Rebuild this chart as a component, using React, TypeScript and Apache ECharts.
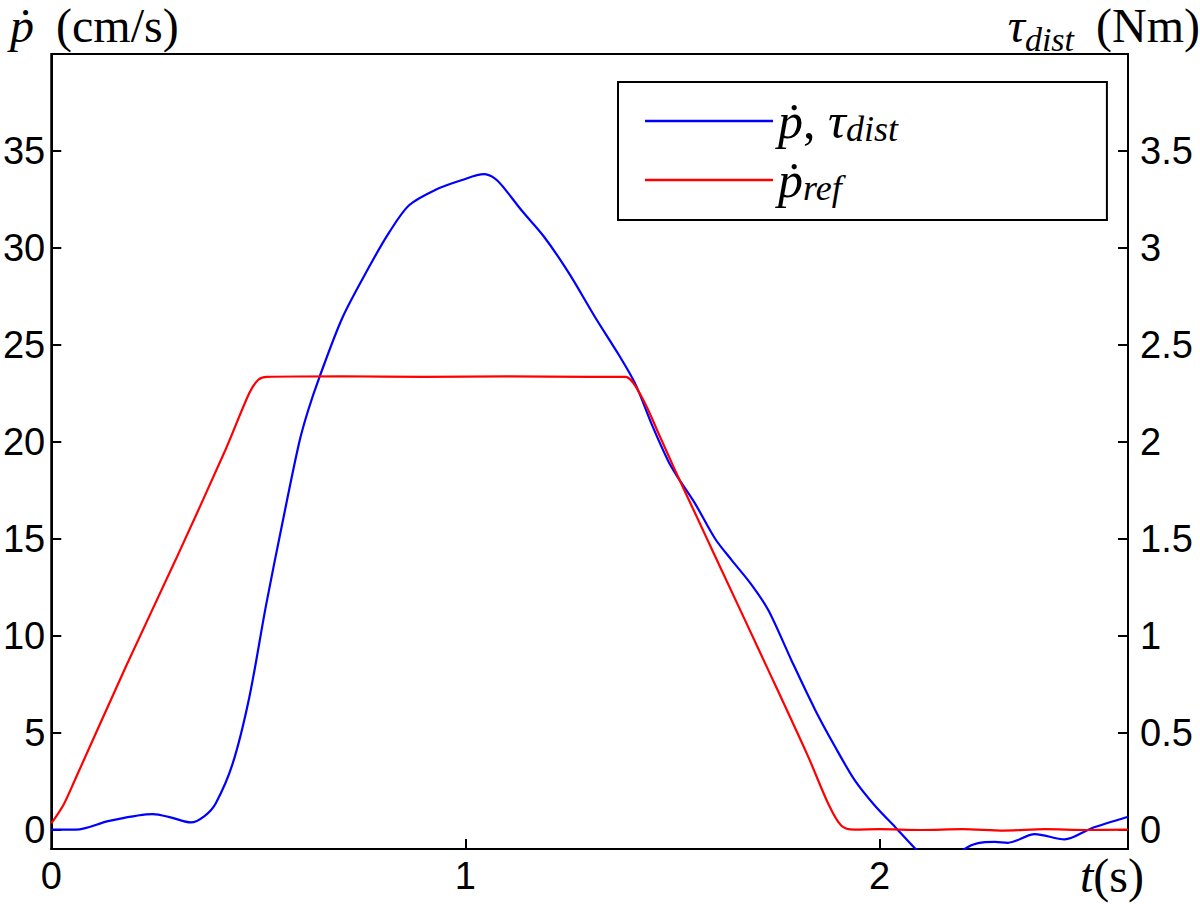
import React, { useEffect, useRef } from "react";
import * as echarts from "echarts";

// time (s), value (cm/s) pairs
const pDotMeasured: [number, number][] = [
  [0, 0], [0.06, 0], [0.14, 0.45], [0.245, 0.8], [0.29, 0.62], [0.337, 0.37],
  [0.37, 0.7], [0.397, 1.35], [0.438, 3.4], [0.478, 6.8], [0.518, 11.5],
  [0.558, 15.8], [0.598, 19.9], [0.62, 21.6], [0.647, 23.3], [0.703, 26.4],
  [0.767, 29.0], [0.816, 30.8], [0.864, 32.2], [0.928, 33.0], [0.992, 33.5],
  [1.045, 33.8], [1.07, 33.6], [1.089, 33.2], [1.137, 31.9], [1.189, 30.6],
  [1.25, 28.7], [1.314, 26.4], [1.37, 24.5], [1.41, 23.0], [1.45, 20.9],
  [1.49, 19.0], [1.515, 18.1], [1.555, 16.8], [1.603, 15.0], [1.643, 13.9],
  [1.692, 12.6], [1.732, 11.3], [1.788, 8.7], [1.844, 6.2], [1.892, 4.3],
  [1.94, 2.55], [1.99, 1.2], [2.037, 0.15], [2.086, -0.97], [2.13, -1.8],
  [2.17, -1.8], [2.206, -1.0], [2.238, -0.7], [2.278, -0.63], [2.31, -0.68],
  [2.375, -0.23], [2.447, -0.5], [2.511, 0.06], [2.6, 0.66],
];

const pDotRef: [number, number][] = [
  [0, 0.32], [0.03, 1.3], [0.06, 2.7], [0.18, 8.4], [0.3, 13.9], [0.421, 19.6],
  [0.478, 22.5], [0.5, 23.2], [0.52, 23.35], [0.7, 23.38], [0.9, 23.35],
  [1.1, 23.37], [1.3, 23.35], [1.386, 23.35], [1.426, 22.3], [1.467, 20.4],
  [1.507, 18.5], [1.555, 16.3], [1.603, 14.1], [1.732, 8.2], [1.828, 3.75],
  [1.877, 1.3], [1.908, 0.2], [1.94, 0], [2.0, 0.02], [2.1, -0.02], [2.2, 0.02],
  [2.3, -0.05], [2.4, 0.02], [2.5, -0.02], [2.6, 0.0],
];

const seriesNames = ["ṗ, τdist", "ṗref"];
const xRange = [0, 2.6];
const leftRange = [-1, 40];
const rightRange = [-0.1, 4.0];

const serif = '"Liberation Serif", "DejaVu Serif", serif';
const sans = '"Liberation Sans", Arial, Helvetica, sans-serif';

const rich: any = {
  it: { fontFamily: serif, fontStyle: "italic", fontWeight: "normal", fontSize: 48, lineHeight: 50, verticalAlign: "middle", color: "#000" },
  rm: { fontFamily: serif, fontWeight: "normal", fontSize: 48, lineHeight: 50, verticalAlign: "middle", color: "#000" },
  gap: { fontFamily: serif, fontSize: 20, lineHeight: 20, width: 22 },
  sub: { fontFamily: serif, fontStyle: "italic", fontWeight: "normal", fontSize: 34, lineHeight: 24, verticalAlign: "top", padding: [22, 0, 0, 0], color: "#000" },
};

const legendRich: any = {
  it: { fontFamily: serif, fontStyle: "italic", fontSize: 50, lineHeight: 52, verticalAlign: "middle", color: "#000" },
  rm: { fontFamily: serif, fontSize: 50, lineHeight: 52, verticalAlign: "middle", color: "#000" },
  sub: { fontFamily: serif, fontStyle: "italic", fontSize: 36, lineHeight: 26, verticalAlign: "bottom", color: "#000" },
};

export default function App() {
  const ref = useRef<HTMLDivElement>(null);
  useEffect(() => {
    if (!ref.current) return;
    const chart = echarts.init(ref.current, undefined, { renderer: "svg" });
    const axisLine = { show: true, onZero: false, lineStyle: { color: "#000", width: 2 } };
    const axisTick = { show: true, inside: true, length: 10, lineStyle: { color: "#000", width: 2 } };
    const titleStyle = { fontWeight: "normal", fontFamily: serif, color: "#000", rich };
    chart.setOption({
      animation: false,
      backgroundColor: "#fff",
      title: [
        { left: 10, top: 0, padding: 0, text: "{it|ṗ}{gap| }{rm|(cm/s)}", textStyle: titleStyle },
        { right: 0, top: 0, padding: 0, text: "{it|τ}{sub|dist}{gap| }{rm|(Nm)}", textStyle: titleStyle },
        { left: 1080, top: 850, padding: 0, text: "{it|t}{rm|(s)}", textStyle: titleStyle },
      ],
      grid: { left: 48.5, right: 72, top: 54, bottom: 55, show: true, borderColor: "#000", borderWidth: 2, backgroundColor: "transparent" },
      xAxis: {
        type: "value", min: xRange[0], max: xRange[1], interval: 1,
        axisLine, axisTick, splitLine: { show: false },
        axisLabel: {
          margin: 8, fontFamily: sans, fontSize: 38, color: "#000",
          formatter: (v: number) => (Math.abs(v - Math.round(v)) < 1e-9 ? String(Math.round(v)) : ""),
        },
      },
      yAxis: [
        {
          type: "value", position: "left", min: leftRange[0], max: leftRange[1],
          splitNumber: 8, minInterval: 5, maxInterval: 5,
          axisLine, axisTick, splitLine: { show: false },
          axisLabel: {
            margin: 6, fontFamily: sans, fontSize: 38, color: "#000",
            formatter: (v: number) => (v >= 0 && v <= 35 ? String(v) : ""),
          },
        },
        {
          type: "value", position: "right", min: rightRange[0], max: rightRange[1],
          splitNumber: 8, minInterval: 0.5, maxInterval: 0.5,
          axisLine, axisTick, splitLine: { show: false },
          axisLabel: {
            margin: 12, fontFamily: sans, fontSize: 38, color: "#000",
            formatter: (v: number) => (v >= -1e-9 && v <= 3.5 + 1e-9 ? String(Math.round(v * 10) / 10) : ""),
          },
        },
      ],
      legend: {
        orient: "vertical", left: 618, top: 82,
        data: seriesNames,
        icon: "rect",
        padding: [14, 209, 14, 27], itemGap: 8, itemWidth: 128, itemHeight: 2.5, itemTextGap: 25,
        borderColor: "#000", borderWidth: 2, backgroundColor: "#fff",
        textStyle: { rich: legendRich },
        formatter: (name: string) => (name === seriesNames[0] ? "{it|ṗ}{rm|, }{it|τ}{sub|dist}" : "{it|ṗ}{sub|ref}"),
      },
      series: [
        {
          name: seriesNames[0], type: "line", data: pDotMeasured, yAxisIndex: 0,
          symbol: "none", showSymbol: false, smooth: 0.3, clip: true,
          lineStyle: { color: "#0000ff", width: 2.2 }, itemStyle: { color: "#0000ff" },
        },
        {
          name: seriesNames[1], type: "line", data: pDotRef, yAxisIndex: 0,
          symbol: "none", showSymbol: false, smooth: 0.3, clip: true,
          lineStyle: { color: "#ff0000", width: 2.2 }, itemStyle: { color: "#ff0000" },
        },
      ],
    });
    return () => chart.dispose();
  }, []);
  return <div ref={ref} style={{ position: "fixed", left: 0, top: 0, width: 1200, height: 904, background: "#fff" }} />;
}
